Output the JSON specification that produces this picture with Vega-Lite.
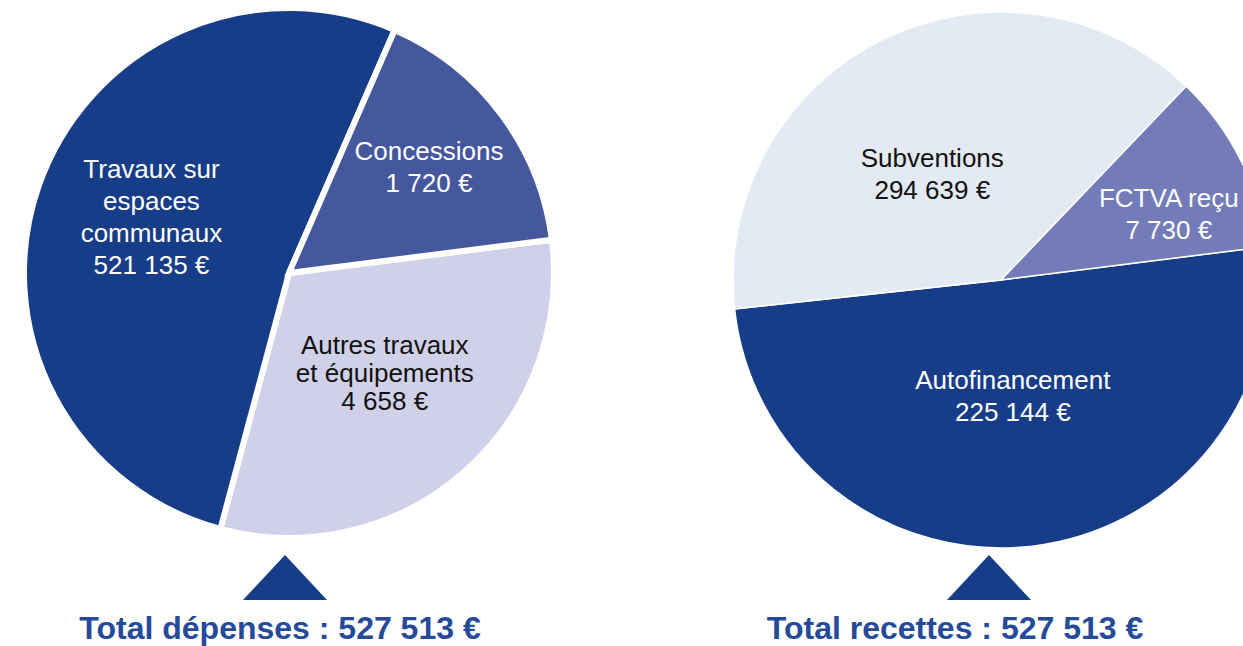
{
  "$schema": "https://vega.github.io/schema/vega-lite/v6.json",
  "width": 1243,
  "height": 646,
  "padding": 0,
  "autosize": {"type": "none"},
  "background": "white",
  "config": {"view": {"stroke": null}, "text": {"font": "Liberation Sans"}},
  "datasets": {
    "postes": [
      {"pie": "dépenses", "poste": "Autres travaux et équipements", "montant": 4658, "part": 31.17, "ordre": 1, "label": "Autres travaux\net équipements\n4 658 €"},
      {"pie": "dépenses", "poste": "Travaux sur espaces communaux", "montant": 521135, "part": 52.36, "ordre": 2, "label": "Travaux sur\nespaces\ncommunaux\n521 135 €"},
      {"pie": "dépenses", "poste": "Concessions", "montant": 1720, "part": 16.47, "ordre": 3, "label": "Concessions\n1 720 €"},
      {"pie": "recettes", "poste": "Autofinancement", "montant": 225144, "part": 50.28, "ordre": 1, "label": "Autofinancement\n225 144 €"},
      {"pie": "recettes", "poste": "Subventions", "montant": 294639, "part": 38.86, "ordre": 2, "label": "Subventions\n294 639 €"},
      {"pie": "recettes", "poste": "FCTVA reçu", "montant": 7730, "part": 10.86, "ordre": 3, "label": "FCTVA reçu\n7 730 €"}
    ],
    "totaux": [
      {"pie": "dépenses", "total": 527513, "titre": "Total dépenses : 527 513 €"},
      {"pie": "recettes", "total": 527513, "titre": "Total recettes : 527 513 €"}
    ]
  },
  "resolve": {"scale": {"x": "independent", "y": "independent"}},
  "layer": [
    {
      "data": {"name": "postes"},
      "transform": [{"filter": "datum.pie === 'dépenses'"}],
      "mark": {"type": "arc", "outerRadius": 265, "stroke": "white", "strokeWidth": 6},
      "encoding": {
        "x": {"field": "pie", "type": "nominal", "scale": {"type": "point", "domain": ["dépenses", "recettes"], "range": [289, 1001], "padding": 0}, "axis": null},
        "y": {"field": "pie", "type": "nominal", "scale": {"type": "point", "domain": ["dépenses", "recettes"], "range": [273, 280], "padding": 0}, "axis": null},
        "theta": {"field": "part", "type": "quantitative", "stack": true, "scale": {"domain": [0, 100], "range": [1.4451, 7.7283]}},
        "order": {"field": "ordre", "type": "quantitative"},
        "color": {"field": "poste", "type": "nominal", "legend": null,
          "scale": {"domain": ["Travaux sur espaces communaux", "Concessions", "Autres travaux et équipements", "Autofinancement", "Subventions", "FCTVA reçu"],
                    "range": ["#173d89", "#45589e", "#d0d1e8", "#173d89", "#e3eaf4", "#737cb8"]}}
      }
    },
    {
      "data": {"name": "postes"},
      "transform": [{"filter": "datum.pie === 'recettes'"}],
      "mark": {"type": "arc", "outerRadius": 268, "stroke": "white", "strokeWidth": 1.5},
      "encoding": {
        "x": {"field": "pie", "type": "nominal", "scale": {"type": "point", "domain": ["dépenses", "recettes"], "range": [289, 1001], "padding": 0}, "axis": null},
        "y": {"field": "pie", "type": "nominal", "scale": {"type": "point", "domain": ["dépenses", "recettes"], "range": [273, 280], "padding": 0}, "axis": null},
        "theta": {"field": "part", "type": "quantitative", "stack": true, "scale": {"domain": [0, 100], "range": [1.4451, 7.7283]}},
        "order": {"field": "ordre", "type": "quantitative"},
        "color": {"field": "poste", "type": "nominal", "legend": null,
          "scale": {"domain": ["Travaux sur espaces communaux", "Concessions", "Autres travaux et équipements", "Autofinancement", "Subventions", "FCTVA reçu"],
                    "range": ["#173d89", "#45589e", "#d0d1e8", "#173d89", "#e3eaf4", "#737cb8"]}}
      }
    },
    {
      "data": {"name": "postes"},
      "transform": [{"filter": "datum.pie === 'dépenses'"}],
      "mark": {"type": "text", "fontSize": 26, "lineHeight": 32, "lineBreak": "\n", "align": "center", "baseline": "middle", "dy": -56, "dx": -3},
      "encoding": {
        "x": {"field": "pie", "type": "nominal", "scale": {"type": "point", "domain": ["dépenses", "recettes"], "range": [289, 1001], "padding": 0}, "axis": null},
        "y": {"field": "pie", "type": "nominal", "scale": {"type": "point", "domain": ["dépenses", "recettes"], "range": [273, 280], "padding": 0}, "axis": null},
        "theta": {"field": "part", "type": "quantitative", "stack": true, "scale": {"domain": [0, 100], "range": [1.4451, 7.7283]}},
        "order": {"field": "ordre", "type": "quantitative"},
        "radius": {"field": "part", "type": "quantitative", "scale": {"type": "linear", "zero": false, "domain": [10, 17, 31.5, 39, 50, 53], "range": [186, 174, 145, 128, 115, 150]}},
        "text": {"condition": {"test": "datum.poste === 'Travaux sur espaces communaux'", "field": "label"}, "value": ""},
        "color": {"value": "#ffffff"}
      }
    },
    {
      "data": {"name": "postes"},
      "transform": [{"filter": "datum.pie === 'dépenses'"}],
      "mark": {"type": "text", "fontSize": 26, "lineHeight": 28, "lineBreak": "\n", "align": "center", "baseline": "middle", "dy": -37},
      "encoding": {
        "x": {"field": "pie", "type": "nominal", "scale": {"type": "point", "domain": ["dépenses", "recettes"], "range": [289, 1001], "padding": 0}, "axis": null},
        "y": {"field": "pie", "type": "nominal", "scale": {"type": "point", "domain": ["dépenses", "recettes"], "range": [273, 280], "padding": 0}, "axis": null},
        "theta": {"field": "part", "type": "quantitative", "stack": true, "scale": {"domain": [0, 100], "range": [1.4451, 7.7283]}},
        "order": {"field": "ordre", "type": "quantitative"},
        "radius": {"field": "part", "type": "quantitative", "scale": {"type": "linear", "zero": false, "domain": [10, 17, 31.5, 39, 50, 53], "range": [186, 174, 145, 128, 115, 150]}},
        "text": {"condition": {"test": "datum.poste === 'Autres travaux et équipements'", "field": "label"}, "value": ""},
        "color": {"value": "#111111"}
      }
    },
    {
      "data": {"name": "postes"},
      "transform": [{"filter": "datum.pie === 'dépenses'"}],
      "mark": {"type": "text", "fontSize": 26, "lineHeight": 32, "lineBreak": "\n", "align": "center", "baseline": "middle", "dy": -16},
      "encoding": {
        "x": {"field": "pie", "type": "nominal", "scale": {"type": "point", "domain": ["dépenses", "recettes"], "range": [289, 1001], "padding": 0}, "axis": null},
        "y": {"field": "pie", "type": "nominal", "scale": {"type": "point", "domain": ["dépenses", "recettes"], "range": [273, 280], "padding": 0}, "axis": null},
        "theta": {"field": "part", "type": "quantitative", "stack": true, "scale": {"domain": [0, 100], "range": [1.4451, 7.7283]}},
        "order": {"field": "ordre", "type": "quantitative"},
        "radius": {"field": "part", "type": "quantitative", "scale": {"type": "linear", "zero": false, "domain": [10, 17, 31.5, 39, 50, 53], "range": [186, 174, 145, 128, 115, 150]}},
        "text": {"condition": {"test": "datum.poste === 'Concessions'", "field": "label"}, "value": ""},
        "color": {"value": "#ffffff"}
      }
    },
    {
      "data": {"name": "postes"},
      "transform": [{"filter": "datum.pie === 'recettes'"}],
      "mark": {"type": "text", "fontSize": 26, "lineHeight": 32, "lineBreak": "\n", "align": "center", "baseline": "middle", "dy": -16, "dx": -2},
      "encoding": {
        "x": {"field": "pie", "type": "nominal", "scale": {"type": "point", "domain": ["dépenses", "recettes"], "range": [289, 1001], "padding": 0}, "axis": null},
        "y": {"field": "pie", "type": "nominal", "scale": {"type": "point", "domain": ["dépenses", "recettes"], "range": [273, 280], "padding": 0}, "axis": null},
        "theta": {"field": "part", "type": "quantitative", "stack": true, "scale": {"domain": [0, 100], "range": [1.4451, 7.7283]}},
        "order": {"field": "ordre", "type": "quantitative"},
        "radius": {"field": "part", "type": "quantitative", "scale": {"type": "linear", "zero": false, "domain": [10, 17, 31.5, 39, 50, 53], "range": [186, 174, 145, 128, 115, 150]}},
        "text": {"condition": {"test": "datum.poste === 'Autofinancement'", "field": "label"}, "value": ""},
        "color": {"value": "#ffffff"}
      }
    },
    {
      "data": {"name": "postes"},
      "transform": [{"filter": "datum.pie === 'recettes'"}],
      "mark": {"type": "text", "fontSize": 26, "lineHeight": 32, "lineBreak": "\n", "align": "center", "baseline": "middle", "dy": -6, "dx": -12},
      "encoding": {
        "x": {"field": "pie", "type": "nominal", "scale": {"type": "point", "domain": ["dépenses", "recettes"], "range": [289, 1001], "padding": 0}, "axis": null},
        "y": {"field": "pie", "type": "nominal", "scale": {"type": "point", "domain": ["dépenses", "recettes"], "range": [273, 280], "padding": 0}, "axis": null},
        "theta": {"field": "part", "type": "quantitative", "stack": true, "scale": {"domain": [0, 100], "range": [1.4451, 7.7283]}},
        "order": {"field": "ordre", "type": "quantitative"},
        "radius": {"field": "part", "type": "quantitative", "scale": {"type": "linear", "zero": false, "domain": [10, 17, 31.5, 39, 50, 53], "range": [186, 174, 145, 128, 115, 150]}},
        "text": {"condition": {"test": "datum.poste === 'Subventions'", "field": "label"}, "value": ""},
        "color": {"value": "#111111"}
      }
    },
    {
      "data": {"name": "postes"},
      "transform": [{"filter": "datum.pie === 'recettes'"}],
      "mark": {"type": "text", "fontSize": 26, "lineHeight": 32, "lineBreak": "\n", "align": "center", "baseline": "middle", "dy": 2, "dx": 3},
      "encoding": {
        "x": {"field": "pie", "type": "nominal", "scale": {"type": "point", "domain": ["dépenses", "recettes"], "range": [289, 1001], "padding": 0}, "axis": null},
        "y": {"field": "pie", "type": "nominal", "scale": {"type": "point", "domain": ["dépenses", "recettes"], "range": [273, 280], "padding": 0}, "axis": null},
        "theta": {"field": "part", "type": "quantitative", "stack": true, "scale": {"domain": [0, 100], "range": [1.4451, 7.7283]}},
        "order": {"field": "ordre", "type": "quantitative"},
        "radius": {"field": "part", "type": "quantitative", "scale": {"type": "linear", "zero": false, "domain": [10, 17, 31.5, 39, 50, 53], "range": [186, 174, 145, 128, 115, 150]}},
        "text": {"condition": {"test": "datum.poste === 'FCTVA reçu'", "field": "label"}, "value": ""},
        "color": {"value": "#ffffff"}
      }
    },
    {
      "data": {"name": "totaux"},
      "mark": {"type": "point", "shape": "M-1,0.536L0,-0.536L1,0.536Z", "filled": true, "size": 7056, "opacity": 1, "color": "#173d89", "strokeWidth": 0},
      "encoding": {
        "x": {"field": "pie", "type": "nominal", "scale": {"type": "point", "domain": ["dépenses", "recettes"], "range": [285, 989], "padding": 0}, "axis": null},
        "y": {"field": "pie", "type": "nominal", "scale": {"type": "point", "domain": ["dépenses", "recettes"], "range": [577.5, 577.5], "padding": 0}, "axis": null}
      }
    },
    {
      "data": {"name": "totaux"},
      "mark": {"type": "text", "fontSize": 32, "fontWeight": "bold", "align": "center", "baseline": "alphabetic", "color": "#264a9a"},
      "encoding": {
        "x": {"field": "pie", "type": "nominal", "scale": {"type": "point", "domain": ["dépenses", "recettes"], "range": [280, 955], "padding": 0}, "axis": null},
        "y": {"field": "pie", "type": "nominal", "scale": {"type": "point", "domain": ["dépenses", "recettes"], "range": [639, 639], "padding": 0}, "axis": null},
        "text": {"field": "titre", "type": "nominal"}
      }
    }
  ]
}
